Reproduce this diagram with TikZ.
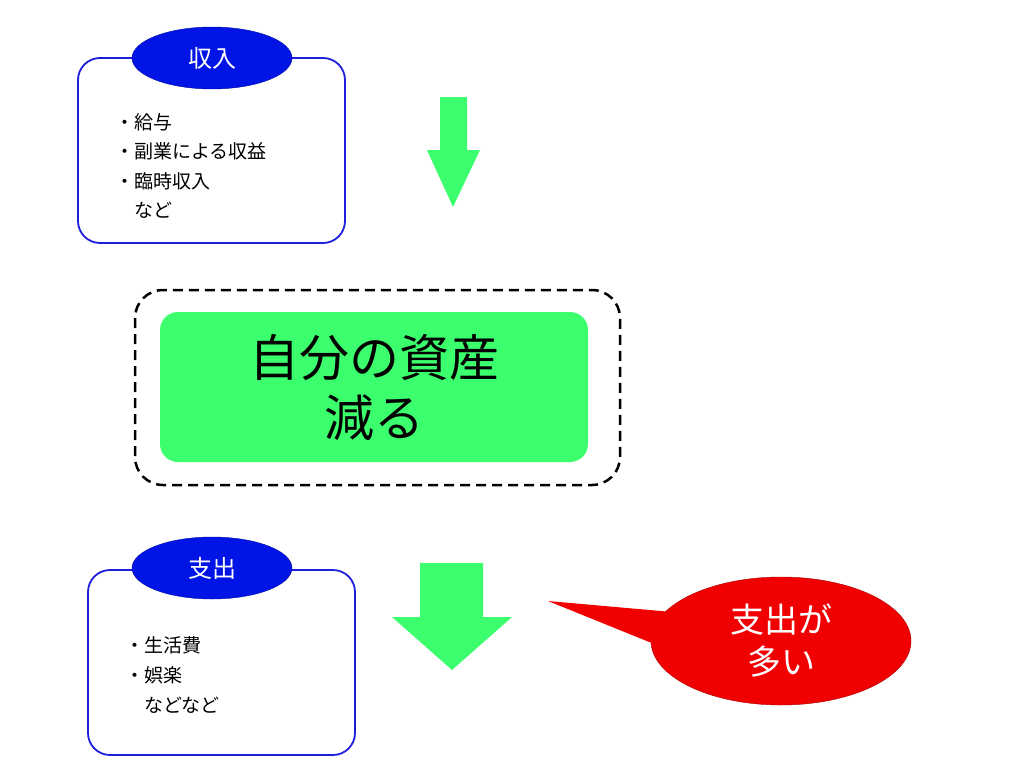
\documentclass[tikz,border=0pt]{standalone}
\usepackage{fontspec}
\setmainfont{Noto Sans CJK JP}
\usetikzlibrary{shapes.geometric}
\definecolor{capblue}{RGB}{0,20,230}
\definecolor{boxblue}{RGB}{30,30,220}
\definecolor{flowgreen}{RGB}{60,255,110}
\definecolor{callred}{RGB}{240,0,0}
\begin{document}
\begin{tikzpicture}[x=1pt, y=-1pt]

        % Styles
        \tikzstyle{listbox} = [draw=boxblue, line width=1.8pt, rounded corners=22pt, fill=white]
        \tikzstyle{caption} = [ellipse, fill=capblue, draw=capblue!70!black, text=white, minimum width=160pt, minimum height=62pt, inner sep=0pt, font=\fontsize{24}{28}\selectfont]
        \tikzstyle{item} = [anchor=west, inner sep=0pt, font=\fontsize{19}{22}\selectfont]
        \tikzstyle{flow} = [fill=flowgreen, draw=none]

        % Page
        \useasboundingbox (0,0) rectangle (1024,768);

        % Income box
        \draw[listbox] (78,58) rectangle (345,243);
        \node[caption] (income) at (212,58) {収入};
        \node[item] (inc1) at (115,122) {・給与};
        \node[item] (inc2) at (115,151) {・副業による収益};
        \node[item] (inc3) at (115,181) {・臨時収入};
        \node[item] (inc4) at (115,210) {\hspace{1em}など};

        % Arrow (income)
        \fill[flow] (440,97) -- (467,97) -- (467,150) -- (480,150) -- (453,207) -- (427,150) -- (440,150) -- cycle;

        % Assets
        \draw[black, line width=2.5pt, dash pattern=on 10pt off 6pt, rounded corners=28pt] (135,290) rectangle (620,485);
        \node[fill=flowgreen, rounded corners=18pt, minimum width=428pt, minimum height=150pt, align=center,
              font=\fontsize{50}{60}\selectfont] (assets) at (374,387) {自分の資産\\減る};

        % Expense box
        \draw[listbox] (88,570) rectangle (355,755);
        \node[caption] (expense) at (212,568) {支出};
        \node[item] (exp1) at (125,645) {・生活費};
        \node[item] (exp2) at (125,675) {・娯楽};
        \node[item] (exp3) at (125,705) {\hspace{1em}などなど};

        % Arrow (expense)
        \fill[flow] (420,563) -- (483,563) -- (483,617) -- (512,617) -- (452,670) -- (392,617) -- (420,617) -- cycle;

        % Callout
        \node[ellipse, fill=callred, draw=callred!70!black, minimum width=260pt, minimum height=128pt, text=white,
              align=center, font=\fontsize{34}{42}\selectfont] (much) at (781,641) {支出が\\多い};
        \fill[callred] (548,601) -- (672,612) -- (664,648) -- cycle;

\end{tikzpicture}
\end{document}
